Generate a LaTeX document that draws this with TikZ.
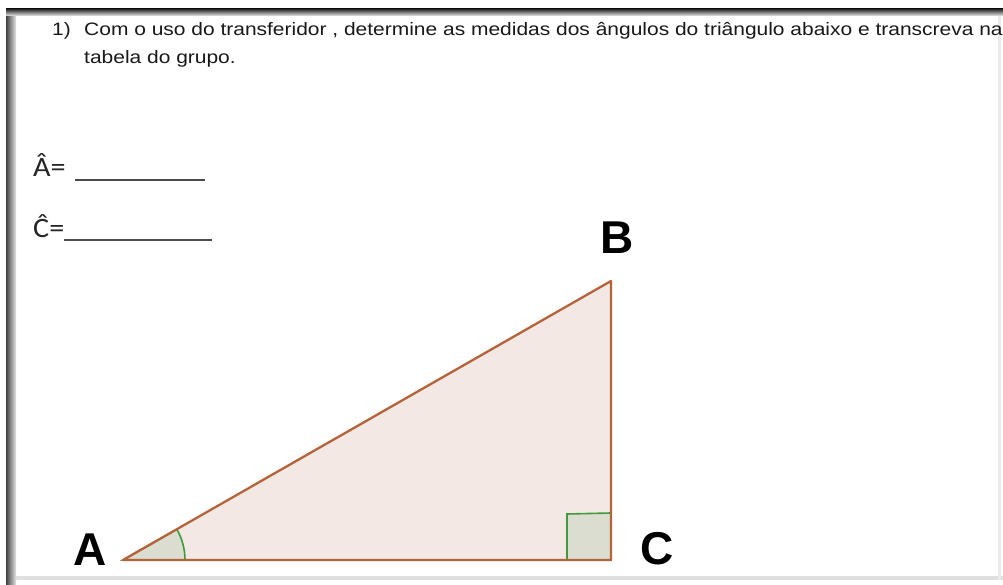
\documentclass[tikz,border=0pt]{standalone}
\usepackage{fontspec}
\setmainfont{Liberation Sans}
\newfontfamily\qfont[FakeStretch=1.165]{Liberation Sans}
\newfontfamily\calib[FakeStretch=1.08]{Carlito}
\begin{document}
\begin{tikzpicture}[x=1pt,y=-1pt,
  edge/.style={draw=triedge,line width=2.3pt,line join=round},
  anglefill/.style={fill=anglegray,draw=anglegreen,line width=1.6pt},
  vlabel/.style={font=\fontsize{46}{46}\selectfont\bfseries,inner sep=0pt},
  qtext/.style={font=\qfont\fontsize{18}{20}\selectfont,inner sep=0pt,anchor=base west,text=black!90},
  eqtext/.style={font=\calib\fontsize{28}{28}\selectfont,inner sep=0pt,anchor=base west,text=black!85}]
\definecolor{triedge}{HTML}{B4633A}
\definecolor{trifill}{HTML}{F4E8E4}
\definecolor{anglegray}{HTML}{DADDCF}
\definecolor{anglegreen}{HTML}{3F9A3A}
\useasboundingbox (0,0) rectangle (1003,585);
% page frame
\fill[white] (0,0) rectangle (1003,585);
\shade[left color=black!75,right color=black!10] (6,10) rectangle (16,585);
\shade[top color=black!85,bottom color=black!8] (6,9) rectangle (1003,16);
\fill[black!12] (16,576) rectangle (1003,580);
\fill[black!8] (998,16) rectangle (1001,580);
% question text
\node[qtext] (n1) at (52,36) {1)};
\node[qtext] (q1) at (84,36) {Com o uso do transferidor , determine as medidas dos ângulos do triângulo abaixo e transcreva na};
\node[qtext] (q2) at (84,64) {tabela do grupo.};
% answer lines
\node[eqtext] (ea) at (33,177) {Â=};
\node[eqtext] (ec) at (33,237) {Ĉ=};
\coordinate (la1) at (75,180);
\coordinate (la2) at (205,180);
\coordinate (lc1) at (64,240);
\coordinate (lc2) at (212,240);
\draw[black!70,line width=1.2pt] (la1) -- (la2);
\draw[black!70,line width=1.2pt] (lc1) -- (lc2);
% triangle
\coordinate (A) at (123,560);
\coordinate (B) at (611,281);
\coordinate (C) at (611,560);
\fill[trifill] (A) -- (B) -- (C) -- cycle;
\draw[anglefill] (A) -- ++(62,0) arc[start angle=0,end angle=-29.76,radius=62] -- cycle;
\draw[anglefill] (567,560) -- (567,514) -- (611,513) -- (611,560) -- cycle;
\draw[edge] (A) -- (B) -- (C) -- cycle;
\node[vlabel] (lA) at (90,550) {A};
\node[vlabel] (lB) at (617,238) {B};
\node[vlabel] (lC) at (657,549) {C};
\end{tikzpicture}
\end{document}
